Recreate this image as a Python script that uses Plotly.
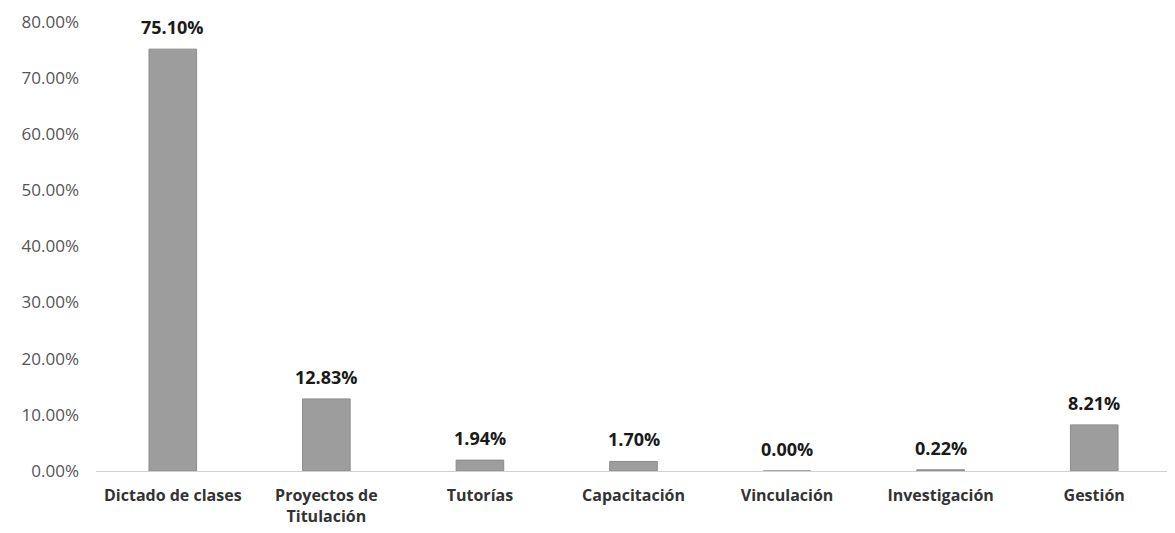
import plotly.graph_objects as go

# Distribución de la carga horaria docente por actividad
categorias = ["Dictado de clases", "Proyectos de<br>Titulación", "Tutorías",
              "Capacitación", "Vinculación", "Investigación", "Gestión"]
porcentajes = [75.10, 12.83, 1.94, 1.70, 0.00, 0.22, 8.21]
ticks_y = [0, 10, 20, 30, 40, 50, 60, 70, 80]

FONT = "'Open Sans', sans-serif"

fig = go.Figure()

fig.add_trace(
    go.Bar(
        x=categorias,
        y=porcentajes,
        width=0.31,
        marker=dict(color="#9d9d9d", line=dict(color="#8c8c8c", width=1)),
        showlegend=False,
        hoverinfo="x+y",
    )
)

# Data labels above each bar
for cat, val in zip(categorias, porcentajes):
    fig.add_annotation(
        x=cat, y=val,
        text=f"<b>{val:.2f}%</b>",
        showarrow=False,
        yshift=22,
        font=dict(family=FONT, size=18, color="#1a1a1a"),
    )

fig.update_layout(
    width=1175,
    height=533,
    template="plotly_white",
    plot_bgcolor="white",
    paper_bgcolor="white",
    margin=dict(l=88, r=12, t=8, b=70),
    font=dict(family=FONT),
)

fig.update_yaxes(
    range=[0, 81],
    tickvals=ticks_y,
    ticktext=[f"{t:.2f}%" for t in ticks_y],
    showgrid=False,
    zeroline=False,
    showline=False,
    automargin=False,
    ticklabelstandoff=16,
    tickfont=dict(family=FONT, size=17, color="#555555"),
)

fig.update_xaxes(
    showgrid=False,
    showline=True,
    linecolor="#d0d0d0",
    linewidth=1,
    ticks="",
    ticklabelstandoff=10,
    tickfont=dict(family=FONT, size=16, color="#333333"),
    tickprefix="<b>",
    ticksuffix="</b>",
)

fig.write_html("out.html")
